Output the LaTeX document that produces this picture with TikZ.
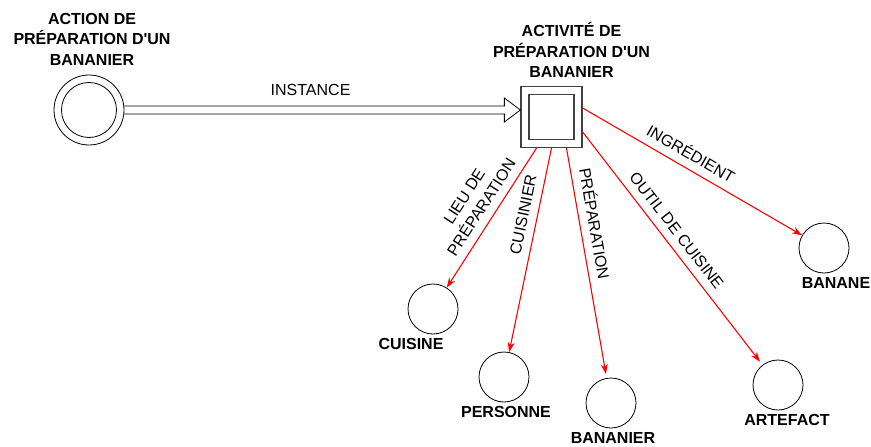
\documentclass[tikz,border=0pt]{standalone}
\usepackage{fontspec}
\setmainfont{Liberation Sans}
\usetikzlibrary{arrows.meta, positioning, calc}

\begin{document}
\begin{tikzpicture}[x=1pt, y=-1pt, >={Stealth[length=10pt, width=7pt]},
  thing/.style={circle, draw, line width=0.8pt, minimum size=50pt, inner sep=0},
  thingname/.style={font=\fontsize{16}{20.5}\selectfont\bfseries, align=center, inner sep=0},
  reltext/.style={font=\fontsize{16}{20.5}\selectfont, align=center, text=black},
  role/.style={->, red, line width=1.1pt},
  rolelabel/.style={reltext, sloped, above, inner sep=8pt}]
  \useasboundingbox (0,0) rectangle (871,447);

  % action and activity
  \node[circle, draw, line width=0.8pt, minimum size=70pt] (act) at (89,110) {};
  \node[circle, draw, line width=0.8pt, minimum size=55pt] (actin) at (act) {};
  \node[thingname, above=9pt of act, xshift=3pt] (actname) {ACTION DE\\PRÉPARATION D\textquotesingle UN\\BANANIER};
  \node[draw=black!75, line width=1.3pt, minimum size=61pt] (box) at (551.5,117) {};
  \node[draw=black!75, line width=1.3pt, minimum size=45pt] (boxin) at (box) {};
  \node[thingname, above=8pt of box, xshift=20pt] (boxname) {ACTIVITÉ DE\\PRÉPARATION D\textquotesingle UN\\BANANIER};

  % hollow instance arrow
  \coordinate (tip) at (act.east -| box.west);
  \draw[line width=0.8pt] ([shift={(0,-4)}]act.east)
    -- node[reltext, pos=0.49, above, inner sep=10pt] (inst) {INSTANCE} ([shift={(-16,-4)}]tip)
    -- ([shift={(-16,-12)}]tip) -- (tip) -- ([shift={(-16,12)}]tip)
    -- ([shift={(-16,4)}]tip) -- ([shift={(0,4)}]act.east);

  % roles
  \node[thing] (cuisine) at (433,309) {};
  \node[thing] (personne) at (504,377) {};
  \node[thing] (bananier) at (611,403) {};
  \node[thing] (artefact) at (778,385) {};
  \node[thing] (banane) at (824,248) {};
  \node[thingname, below=4pt of cuisine, xshift=-22pt] (lcuisine) {CUISINE};
  \node[thingname, below=4pt of personne, xshift=2pt] (lpersonne) {PERSONNE};
  \node[thingname, below=4pt of bananier, xshift=2pt] (lbananier) {BANANIER};
  \node[thingname, below=4pt of artefact, xshift=9pt] (lartefact) {ARTEFACT};
  \node[thingname, below=4pt of banane, xshift=12pt] (lbanane) {BANANE};

  \draw[role] ([xshift=-15pt]box.south) -- (cuisine) node[rolelabel, pos=0.48] {LIEU DE\\PRÉPARATION};
  \draw[role] (box.south) -- (personne) node[rolelabel, pos=0.34] {CUISINIER};
  \draw[role, shorten >=4pt] ([xshift=15pt]box.south) -- (bananier) node[rolelabel, pos=0.34] {PRÉPARATION};
  \draw[role, shorten >=4pt] ([yshift=-15pt]box.east) -- (artefact) node[rolelabel, pos=0.46] {OUTIL DE CUISINE};
  \draw[role] ([yshift=9pt]box.east) -- (banane) node[rolelabel, pos=0.46] {INGRÉDIENT};
\end{tikzpicture}
\end{document}
